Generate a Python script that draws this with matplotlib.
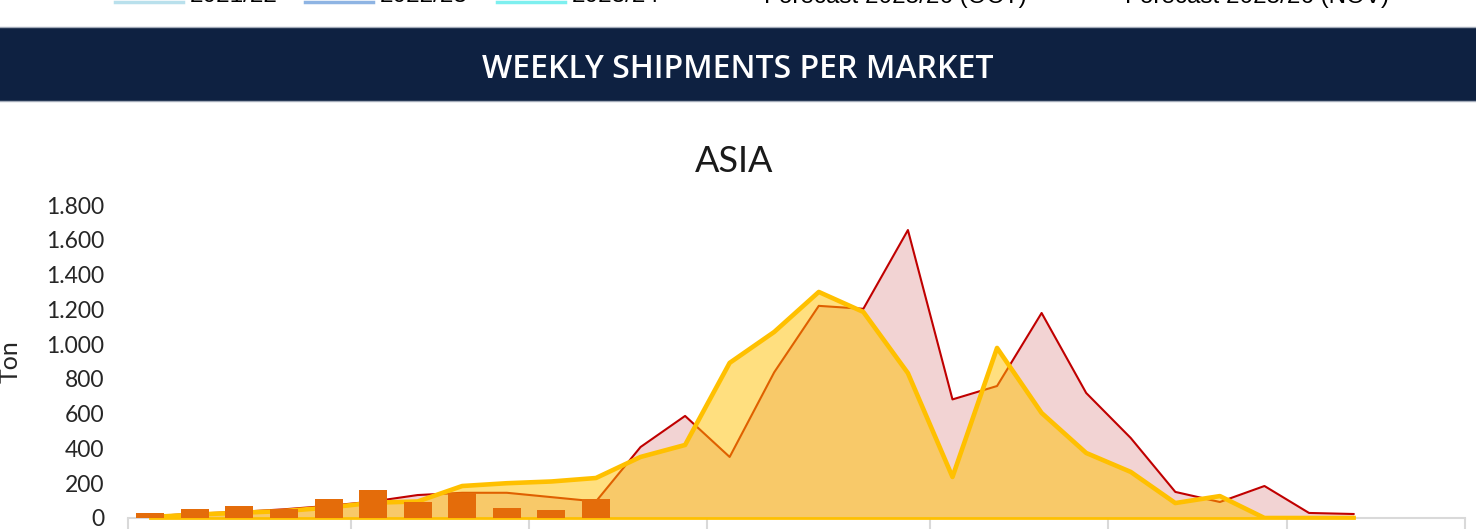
import matplotlib.pyplot as plt
import numpy as np
from matplotlib.patches import Rectangle
from matplotlib.lines import Line2D
from matplotlib.ticker import FuncFormatter

# weekly categories, grouped by month (boundaries as week index)
n_weeks = 30
month_starts = [0, 5, 9, 13, 18, 22, 26, 30]

# previous season (red line, pink area)
season_prev = [10, 25, 35, 50, 70, 95, 132, 145, 145, 120, 95, 408, 587, 351,
               838, 1220, 1203, 1656, 682, 759, 1179, 719, 460, 150, 92, 184, 29, 23]
# forecast (thick yellow line, light yellow area)
forecast = [5, 20, 30, 40, 60, 88, 95, 184, 200, 210, 230, 351, 420, 892,
            1070, 1300, 1185, 833, 236, 978, 604, 374, 265, 86, 126, 0, 0, 0]
# actual shipments current season (bars)
actual = [31, 50, 71, 50, 107, 161, 94, 142, 56, 46, 107]

# legend of the chart above (cut off at the top of the screenshot)
legend_above = ['2021/22', '2022/23', '2023/24']
legend_above_colors = ['#B9E0EC', '#8EB4E3', '#7DEFEF']
legend_above_forecast = ['Forecast 2025/26 (OCT)', 'Forecast 2025/26 (NOV)']

W, H = 1476, 529
fig = plt.figure(figsize=(W / 100, H / 100), dpi=100)

# cut-off legend text at the very top
sample_x = [115, 305, 497]
for i in range(len(legend_above)):
    x0 = sample_x[i]
    fig.add_artist(Line2D([x0 / W, (x0 + 68) / W], [1 - 1.5 / H, 1 - 1.5 / H],
                          color=legend_above_colors[i], lw=2.5))
    fig.text((x0 + 75) / W, 1 - 2.5 / H, legend_above[i], fontsize=17.5,
             family='Liberation Sans', va='baseline', ha='left')
for lab, x0 in zip(legend_above_forecast, [764, 1125]):
    fig.text(x0 / W, 1 - 2.5 / H, lab, fontsize=17.5,
             family='Liberation Sans', va='baseline', ha='left')

# navy banner
fig.add_artist(Rectangle((-0.01, 1 - 101 / H), 1.02, 74 / H, transform=fig.transFigure,
                         facecolor='#0E2141', edgecolor='#A3ABB9', lw=1))
fig.text(0.5, 1 - 70 / H, 'WEEKLY SHIPMENTS PER MARKET', color='white',
         fontsize=23, family='Open Sans', fontweight='semibold',
         ha='center', va='center')

fig.text(734 / W, 1 - 162 / H, 'ASIA', fontsize=26, family='Lato',
         ha='center', va='center', color='#1a1a1a')
fig.text(10 / W, 1 - 362 / H, 'Ton', fontsize=18, family='Lato', rotation=90,
         ha='center', va='center', color='#262626')

ax = fig.add_axes([128 / W, 11 / H, 1337 / W, 313 / H])

x_prev = np.arange(len(season_prev))
x_fc = np.arange(len(forecast))
x_act = np.arange(len(actual))

ax.fill_between(x_prev, season_prev, color='#F2D3D3', lw=0, zorder=1)
ax.plot(x_prev, season_prev, color='#C00000', lw=1.5, zorder=2)
ax.fill_between(x_fc, forecast, color='#FFC000', alpha=0.5, lw=0, zorder=3)
ax.plot(x_fc, forecast, color='#FFC000', lw=3.3, zorder=4)
ax.plot([x_fc[0], x_fc[-1]], [0, 0], color='#FFC000', lw=2, zorder=4, clip_on=False)
ax.bar(x_act, actual, width=0.63, color='#E46C0A', zorder=5)

ax.set_xlim(-0.5, n_weeks - 0.5)
ax.set_ylim(0, 1800)
ax.set_yticks(range(0, 1801, 200))
ax.yaxis.set_major_formatter(FuncFormatter(lambda v, p: f'{int(v):,}'.replace(',', '.')))
ax.set_xticks([m - 0.5 for m in month_starts])
ax.set_xticklabels([])
ax.tick_params(axis='x', length=20, color='#D9D9D9', width=1.5)
ax.tick_params(axis='y', length=0, pad=17, labelsize=16.5, labelcolor='#262626')
for lab in ax.get_yticklabels():
    lab.set_family('Lato')
for s in ['top', 'right', 'left']:
    ax.spines[s].set_visible(False)
ax.spines['bottom'].set_color('#D9D9D9')
ax.spines['bottom'].set_linewidth(1.5)
ax.patch.set_alpha(0)

fig.savefig('out.png', dpi=100)
